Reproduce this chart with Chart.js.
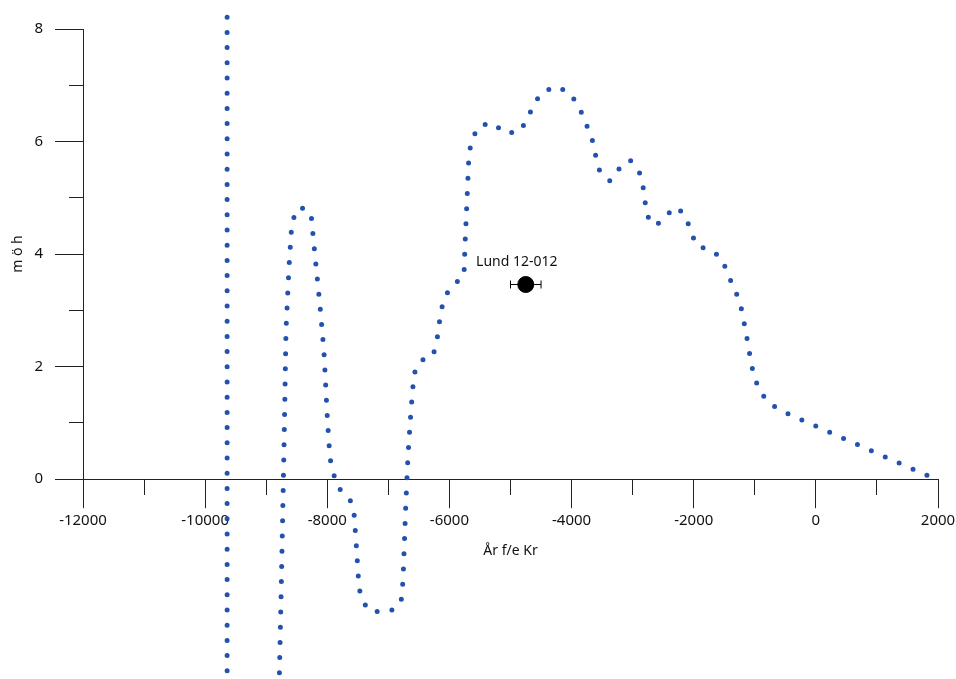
<!DOCTYPE html>
<html>
<head>
<meta charset="utf-8">
<script src="https://cdn.jsdelivr.net/npm/chart.js@4"></script>
<style>
  html, body { margin: 0; padding: 0; background: #fff; }
  #wrap { width: 956px; height: 679px; }
</style>
</head>
<body>
<div id="wrap"><canvas id="chart"></canvas></div>
<script>
// Shoreline curve (year, metres above sea level)
const curveYears = [-9640, -9640, -8815, -8758, -8709, -8676, -8627, -8578, -8447, -8267,
  -8218, -8119, -8054, -7997, -7956, -7890, -7792, -7628, -7563, -7530,
  -7481, -7433, -7301, -6973, -6793, -6760, -6719, -6678, -6629, -6580,
  -6482, -6269, -6204, -6138, -6073, -5942, -5762, -5745, -5712, -5680,
  -5630, -5516, -5287, -5090, -4861, -4730, -4632, -4501, -4271, -4042,
  -3895, -3797, -3649, -3600, -3535, -3371, -3224, -3043, -2896, -2831,
  -2765, -2618, -2470, -2274, -2127, -2045, -1946, -1701, -1537, -1439,
  -1242, -1144, -1062, -1013, -915, -767, -554, 1960];
const curveLevels = [8.21, -5, -5, -2.15, 0.53, 2.65, 3.77, 4.59, 4.84, 4.73,
  4.16, 3.08, 2.26, 1.05, 0.37, 0.07, -0.18, -0.36, -0.59, -1.08,
  -1.92, -2.15, -2.35, -2.35, -2.2, -1.8, -0.57, 0.43, 1.23, 1.87,
  2.1, 2.19, 2.47, 2.99, 3.25, 3.45, 3.61, 4.16, 4.96, 5.78,
  6.04, 6.28, 6.33, 6.15, 6.17, 6.38, 6.63, 6.86, 6.98, 6.88,
  6.65, 6.42, 5.99, 5.72, 5.46, 5.30, 5.51, 5.67, 5.48, 5.21,
  4.68, 4.50, 4.68, 4.84, 4.66, 4.39, 4.14, 4.07, 3.91, 3.64,
  3.15, 2.61, 2.08, 1.83, 1.56, 1.35, 1.21, 0];

// Dated sample
const sampleNames = ['Lund 12-012'];
const sampleYears = [-4750];
const sampleLevels = [3.46];
const sampleErrors = [250];

// Axis settings
const xMin = -12000, xMax = 2000, xMajor = 2000, xMinor = 1000;
const yMin = 0, yMax = 8, yMajor = 2, yMinor = 1;

const curvePoints = curveYears.map((x, i) => ({ x: x, y: curveLevels[i] }));
const samplePoints = sampleYears.map((x, i) => ({ x: x, y: sampleLevels[i] }));
const errorPoints = [];
sampleYears.forEach((x, i) => {
    errorPoints.push({ x: x - sampleErrors[i], y: sampleLevels[i] });
    errorPoints.push({ x: x + sampleErrors[i], y: sampleLevels[i] });
});

Chart.defaults.font.family = '"Noto Sans", sans-serif';
Chart.defaults.font.size = 14;
Chart.defaults.color = '#111';

const axisColor = '#222';

const sampleLabel = {
    id: 'sampleLabel',
    afterDatasetsDraw(chart) {
        const meta = chart.getDatasetMeta(2);
        const ctx = chart.ctx;
        ctx.save();
        ctx.font = '14px "Noto Sans", sans-serif';
        ctx.fillStyle = '#111';
        ctx.textAlign = 'center';
        ctx.textBaseline = 'middle';
        meta.data.forEach((pt, i) => ctx.fillText(sampleNames[i], pt.x - 9, pt.y - 22));
        ctx.restore();
    }
};

new Chart(document.getElementById('chart'), {
    type: 'scatter',
    data: {
        datasets: [{
            data: curvePoints,
            showLine: true,
            clip: false,
            borderColor: '#2352ae',
            borderWidth: 5,
            borderDash: [0, 15.2],
            borderCapStyle: 'round',
            borderJoinStyle: 'round',
            tension: 0,
            pointRadius: 0
        }, {
            data: errorPoints,
            showLine: true,
            borderColor: '#000',
            borderWidth: 1,
            pointStyle: 'line',
            rotation: 90,
            pointRadius: 4,
            pointBorderColor: '#000',
            pointBorderWidth: 1
        }, {
            data: samplePoints,
            pointRadius: 8,
            pointBackgroundColor: '#000',
            pointBorderColor: '#000'
        }]
    },
    options: {
        responsive: true,
        maintainAspectRatio: false,
        animation: false,
        layout: { padding: { top: 29, right: 0, bottom: 120, left: 0 } },
        plugins: {
            legend: { display: false },
            tooltip: { enabled: false }
        },
        scales: {
            x: {
                type: 'linear',
                min: xMin,
                max: xMax,
                afterFit: s => { s.paddingRight = 18; },
                border: { display: true, color: axisColor, width: 1 },
                grid: {
                    drawOnChartArea: false,
                    drawTicks: true,
                    tickLength: 29,
                    tickColor: axisColor,
                    tickBorderDash: ctx => (ctx.tick && ctx.tick.value % xMajor !== 0) ? [15, 100] : []
                },
                ticks: {
                    stepSize: xMinor,
                    padding: 4,
                    maxRotation: 0,
                    autoSkip: false,
                    font: { size: 15 },
                    callback: v => (v % xMajor === 0 ? String(v) : '')
                },
                title: {
                    display: true,
                    text: 'År f/e Kr',
                    font: { size: 14 },
                    padding: { top: 8, bottom: 0 }
                }
            },
            y: {
                type: 'linear',
                min: yMin,
                max: yMax,
                afterFit: s => { s.width = 83; },
                border: { display: true, color: axisColor, width: 1 },
                grid: {
                    drawOnChartArea: false,
                    drawTicks: true,
                    tickLength: 28,
                    tickColor: axisColor,
                    // minor ticks: only the half next to the axis line
                    tickBorderDash: ctx => (ctx.tick && ctx.tick.value % yMajor !== 0) ? [14, 14] : [],
                    tickBorderDashOffset: ctx => (ctx.tick && ctx.tick.value % yMajor !== 0) ? 14 : 0
                },
                ticks: {
                    stepSize: yMinor,
                    padding: 12,
                    autoSkip: false,
                    font: { size: 15 },
                    callback: v => (v % yMajor === 0 ? String(v) : '')
                },
                title: {
                    display: true,
                    text: 'm ö h',
                    font: { size: 14 },
                    padding: { top: 10, bottom: 0 }
                }
            }
        }
    },
    plugins: [sampleLabel]
});
</script>
</body>
</html>
